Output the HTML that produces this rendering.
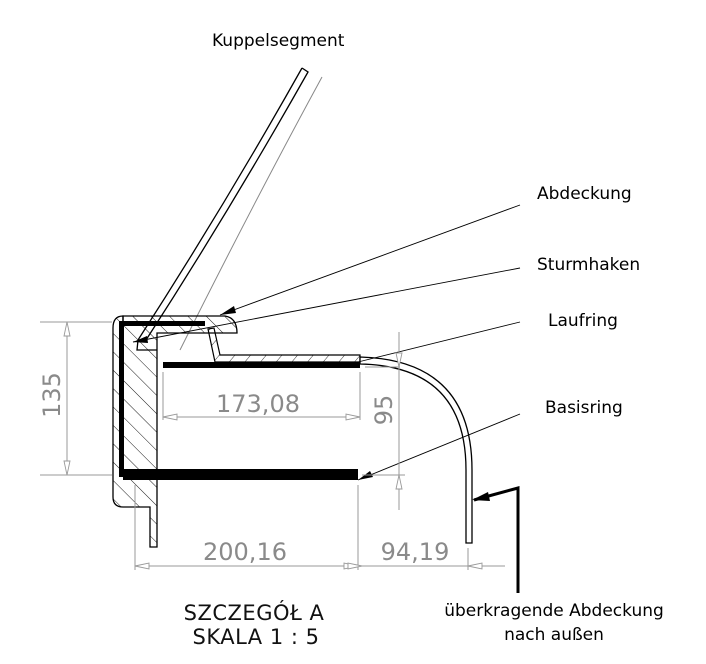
<!DOCTYPE html>
<html><head><meta charset="utf-8"><style>
html,body{margin:0;padding:0;background:#fff;}
svg{display:block;}
.lbl{font-family:"DejaVu Sans","Liberation Sans",sans-serif;font-size:17px;fill:#000;}
.dim{font-family:"DejaVu Sans","Liberation Sans",sans-serif;font-size:24px;fill:#8a8a8a;}
.ttl{font-family:"DejaVu Sans","Liberation Sans",sans-serif;font-size:21px;fill:#111;letter-spacing:0.5px;}
</style></head><body>
<svg width="706" height="664" viewBox="0 0 706 664" xmlns="http://www.w3.org/2000/svg">
<defs>
<pattern id="h" width="13" height="13" patternUnits="userSpaceOnUse" patternTransform="rotate(-45)">
<line x1="0" y1="0" x2="0" y2="13" stroke="#000" stroke-width="0.9"/></pattern>
<pattern id="h2" width="12" height="12" patternUnits="userSpaceOnUse" patternTransform="rotate(40)">
<line x1="0" y1="0" x2="0" y2="12" stroke="#000" stroke-width="0.8"/></pattern>
</defs>
<!-- dome segment -->
<path d="M302,68 L308,72 Q230,210 146,340" fill="none" stroke="#000" stroke-width="1.3"/>
<path d="M302,68 Q225,205 138,340 L137,350 L157,350" fill="none" stroke="#000" stroke-width="1.3"/>
<path d="M322,77 Q255,200 180,350" fill="none" stroke="#888" stroke-width="1"/>
<!-- main housing -->
<path d="M123,316 L225,316 Q237,318 237,333 L157,333 L157,475 L123,475 Z" fill="url(#h)" stroke="#000" stroke-width="1.3"/>
<path d="M123,316 Q113,316 113,328 L113,497 Q113,507 123,507 L150,507 L150,547 L157,547 L157,475 L123,475 Z" fill="url(#h)" stroke="#000" stroke-width="1.3"/>
<rect x="119" y="321" width="5" height="156" fill="#000"/>
<rect x="119" y="321" width="86" height="5" fill="#000"/>
<!-- sturmhaken -->
<path d="M208,329 L214,328 L220,355 L360,355 L360,362 L215,362 Z" fill="url(#h2)" stroke="#000" stroke-width="1.2"/>
<!-- laufring -->
<rect x="163" y="362" width="197" height="6" fill="#000"/>
<!-- basisring -->
<rect x="123" y="469" width="235" height="11" fill="#000"/>
<!-- overhang -->
<path d="M360,357 Q472,360 472,470 L472,543 L466,543 L466,470 Q466,366 360,364 Z" fill="#fff" stroke="#000" stroke-width="1.3"/>
<!-- leaders -->
<g stroke="#000" stroke-width="0.9" fill="none">
<line x1="520" y1="205" x2="220" y2="315"/>
<line x1="520" y1="268" x2="133" y2="342"/>
<line x1="520" y1="322" x2="358" y2="362"/>
<line x1="520" y1="414" x2="358" y2="480"/>
</g>
<polygon points="220,315 234,306 236,313" fill="#000"/>
<polygon points="133,342 147,336 148,343" fill="#000"/>
<polygon points="358,480 370,471 373,477" fill="#000"/>
<path d="M518,593 L518,488 L474,500" fill="none" stroke="#000" stroke-width="3"/>
<polygon points="472,500 488,492 490,501" fill="#000"/>
<!-- dimensions -->
<g stroke="#999" stroke-width="1" fill="none">
<line x1="40" y1="322" x2="112" y2="322"/><line x1="40" y1="475" x2="112" y2="475"/>
<line x1="67" y1="322" x2="67" y2="475"/>
<line x1="163" y1="372" x2="163" y2="420"/><line x1="360" y1="372" x2="360" y2="420"/>
<line x1="163" y1="417" x2="360" y2="417"/>
<line x1="399" y1="332" x2="399" y2="510"/>
<line x1="365" y1="367" x2="400" y2="367"/><line x1="362" y1="475" x2="405" y2="475"/>
<line x1="135" y1="485" x2="135" y2="570"/><line x1="358" y1="485" x2="358" y2="570"/>
<line x1="468" y1="548" x2="468" y2="570"/>
<line x1="135" y1="566" x2="505" y2="566"/>
</g>
<g fill="#fff" stroke="#999" stroke-width="0.9">
<polygon points="67,322 64,336 70,336"/><polygon points="67,475 64,461 70,461"/>
<polygon points="163,417 177,414 177,420"/><polygon points="360,417 346,414 346,420"/>
<polygon points="399,367 396,353 402,353"/><polygon points="399,475 396,489 402,489"/>
<polygon points="135,566 149,563 149,569"/><polygon points="358,566 344,563 344,569"/>
<polygon points="362,566 348,563 348,569"/><polygon points="468,566 482,563 482,569"/>
</g>
<text class="dim" x="258" y="412" text-anchor="middle">173,08</text>
<text class="dim" x="245" y="560" text-anchor="middle">200,16</text>
<text class="dim" x="415" y="560" text-anchor="middle">94,19</text>
<text class="dim" transform="translate(60,395) rotate(-90)" text-anchor="middle">135</text>
<text class="dim" transform="translate(392,410) rotate(-90)" text-anchor="middle">95</text>
<!-- labels -->
<text class="lbl" x="212" y="46">Kuppelsegment</text>
<text class="lbl" x="537" y="199">Abdeckung</text>
<text class="lbl" x="537" y="270">Sturmhaken</text>
<text class="lbl" x="548" y="326">Laufring</text>
<text class="lbl" x="545" y="413">Basisring</text>
<text class="ttl" x="254" y="620" text-anchor="middle">SZCZEGÓŁ A</text>
<text class="ttl" x="256" y="644" text-anchor="middle">SKALA 1 : 5</text>
<text class="lbl" x="554" y="616" text-anchor="middle">überkragende Abdeckung</text>
<text class="lbl" x="554" y="640" text-anchor="middle">nach außen</text>
</svg>
</body></html>
